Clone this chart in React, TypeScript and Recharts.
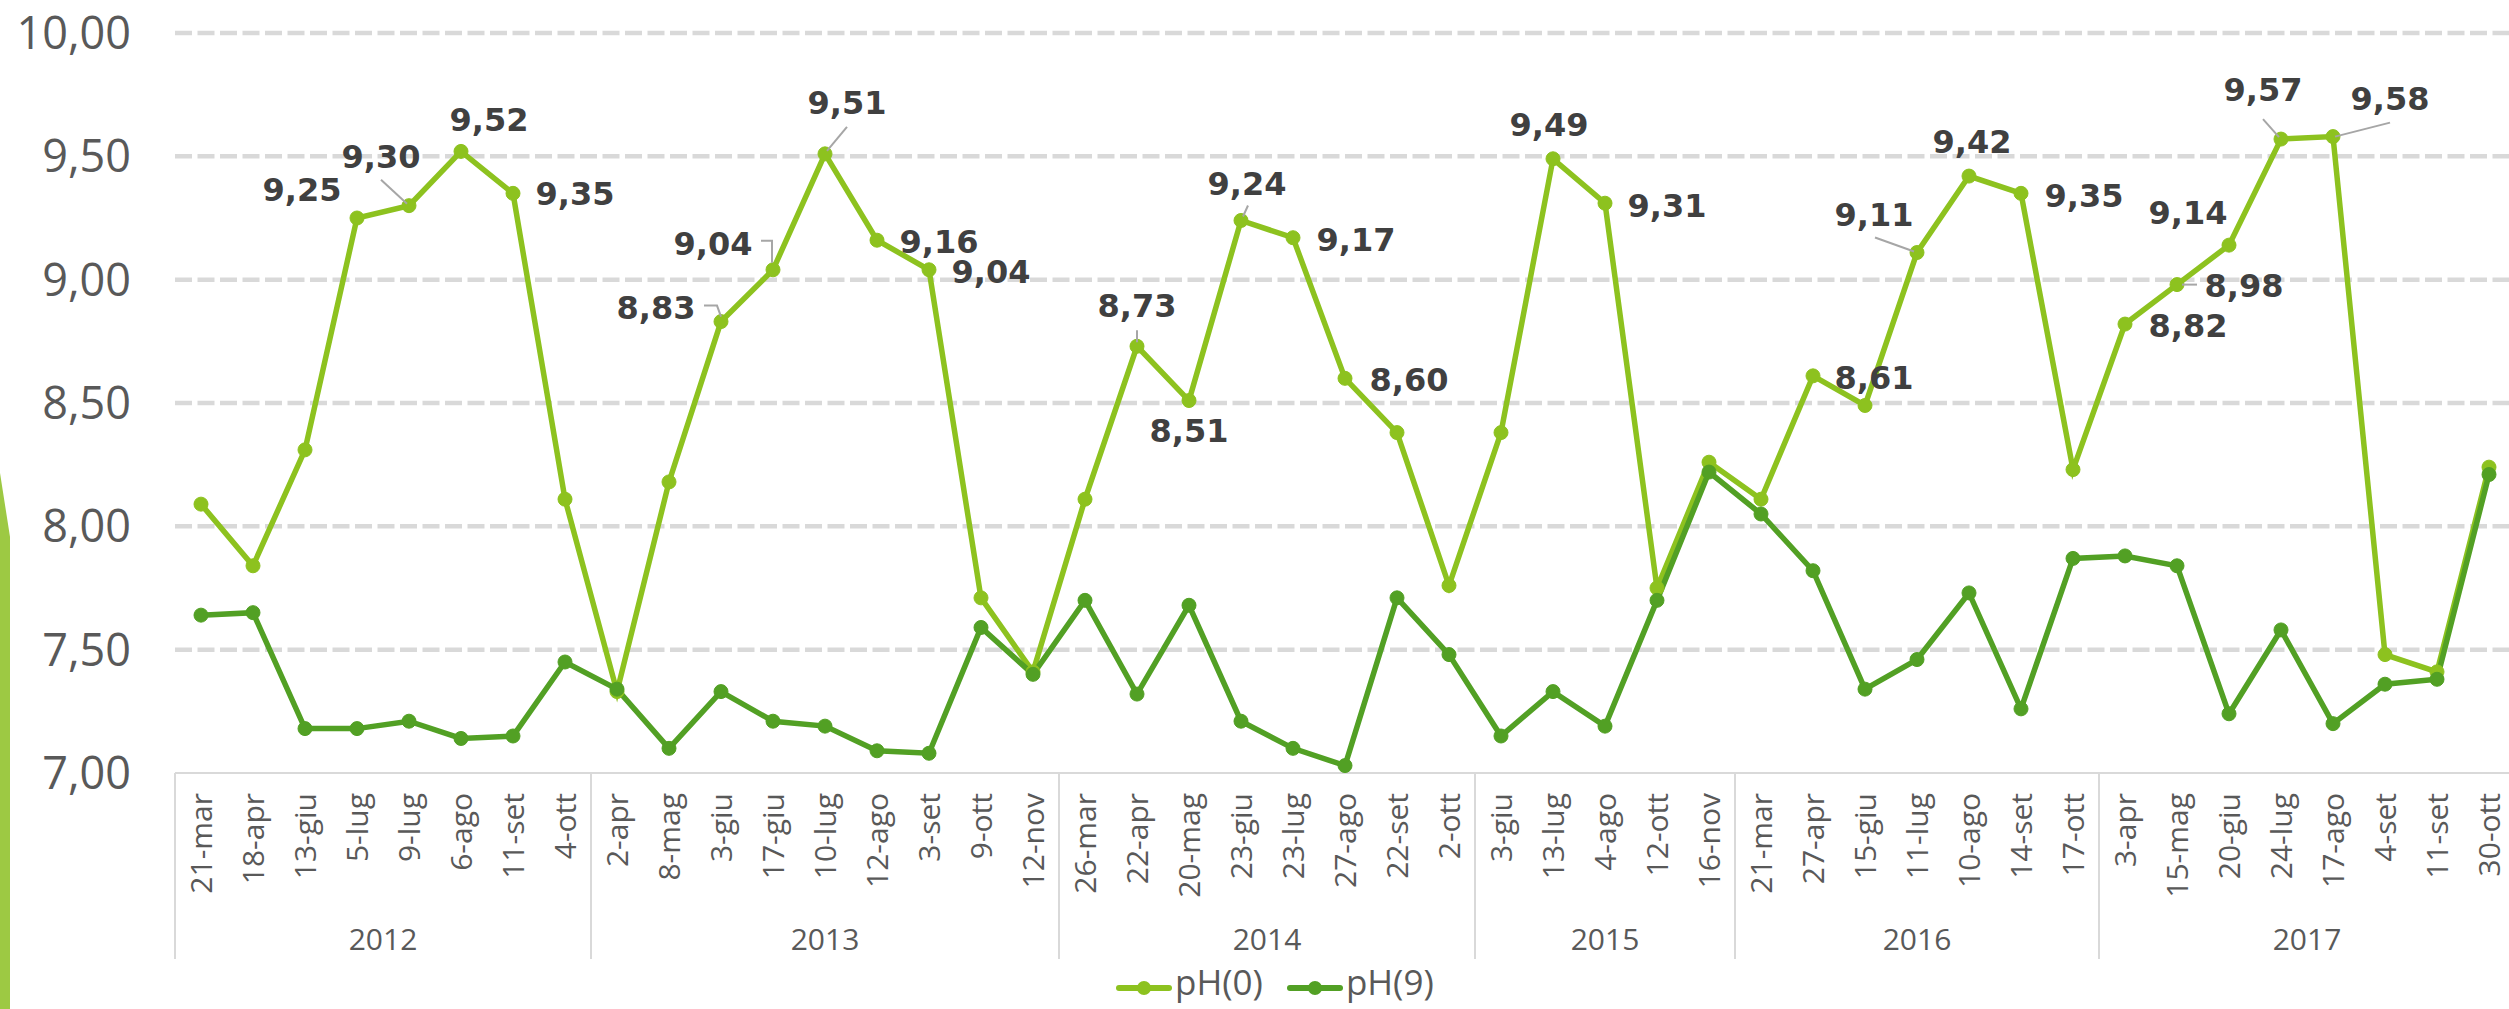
import { LineChart, Line, XAxis, YAxis, CartesianGrid, Legend } from 'recharts';

const YEARS = ['2012', '2013', '2014', '2015', '2016', '2017'];

const DATES_2012 = ['21-mar', '18-apr', '13-giu', '5-lug', '9-lug', '6-ago', '11-set', '4-ott'];
const DATES_2013 = ['2-apr', '8-mag', '3-giu', '17-giu', '10-lug', '12-ago', '3-set', '9-ott', '12-nov'];
const DATES_2014 = ['26-mar', '22-apr', '20-mag', '23-giu', '23-lug', '27-ago', '22-set', '2-ott'];
const DATES_2015 = ['3-giu', '13-lug', '4-ago', '12-ott', '16-nov'];
const DATES_2016 = ['21-mar', '27-apr', '15-giu', '11-lug', '10-ago', '14-set', '17-ott'];
const DATES_2017 = ['3-apr', '15-mag', '20-giu', '24-lug', '17-ago', '4-set', '11-set', '30-ott'];

const PH0 = [
  8.09, 7.84, 8.31, 9.25, 9.3, 9.52, 9.35, 8.11,
  7.33, 8.18, 8.83, 9.04, 9.51, 9.16, 9.04, 7.71, 7.41,
  8.11, 8.73, 8.51, 9.24, 9.17, 8.6, 8.38, 7.76,
  8.38, 9.49, 9.31, 7.75, 8.26,
  8.11, 8.61, 8.49, 9.11, 9.42, 9.35, 8.23,
  8.82, 8.98, 9.14, 9.57, 9.58, 7.48, 7.41, 8.24,
];

const PH9 = [
  7.64, 7.65, 7.18, 7.18, 7.21, 7.14, 7.15, 7.45,
  7.34, 7.1, 7.33, 7.21, 7.19, 7.09, 7.08, 7.59, 7.4,
  7.7, 7.32, 7.68, 7.21, 7.1, 7.03, 7.71, 7.48,
  7.15, 7.33, 7.19, 7.7, 8.22,
  8.05, 7.82, 7.34, 7.46, 7.73, 7.26, 7.87,
  7.88, 7.84, 7.24, 7.58, 7.2, 7.36, 7.38, 8.21,
];

const Y_TICKS = [7, 7.5, 8, 8.5, 9, 9.5, 10];

const DATES_BY_YEAR = [DATES_2012, DATES_2013, DATES_2014, DATES_2015, DATES_2016, DATES_2017];

const data = DATES_BY_YEAR.flatMap((dates, g) => dates.map((d) => ({ date: d, year: YEARS[g] }))).map((row, i) => ({
  ...row,
  ph0: PH0[i],
  ph9: PH9[i],
}));

// first index of each year group and its size
const groups: { start: number; count: number; year: string }[] = [];
DATES_BY_YEAR.reduce((start, dates, g) => {
  groups.push({ start, count: dates.length, year: YEARS[g] });
  return start + dates.length;
}, 0);

const LIGHT = '#8dc21f';
const DARK = '#52a024';
const TEXT = '#595959';

const CHART_W = 2520;
const CHART_H = 1009;
const PLOT_LEFT = 175;
const PLOT_RIGHT = 2515;
const STEP = (PLOT_RIGHT - PLOT_LEFT) / data.length;

// where the value labels of pH(0) sit, relative to their point (text baseline, centred)
const LABEL_PLACE: Record<number, { dx: number; dy: number; leader?: number[][] }> = {
  3: { dx: -55, dy: -17 },
  4: { dx: -28, dy: -38, leader: [[-28, -26], [-2, -2]] },
  5: { dx: 28, dy: -20 },
  6: { dx: 62, dy: 12 },
  10: { dx: -65, dy: -3, leader: [[-17, -16], [-4, -16], [0, -5]] },
  11: { dx: -60, dy: -15, leader: [[-12, -29], [-1, -29], [-1, -7]] },
  12: { dx: 22, dy: -40, leader: [[22, -27], [2, -3]] },
  13: { dx: 62, dy: 13 },
  14: { dx: 62, dy: 13 },
  18: { dx: 0, dy: -29, leader: [[0, -16], [0, -4]] },
  19: { dx: 0, dy: 41 },
  20: { dx: 6, dy: -25, leader: [[7, -15], [2, -4]] },
  21: { dx: 63, dy: 13 },
  22: { dx: 64, dy: 13 },
  26: { dx: -4, dy: -23 },
  27: { dx: 62, dy: 14 },
  31: { dx: 61, dy: 13 },
  33: { dx: -43, dy: -27, leader: [[-42, -15], [-3, -1]] },
  34: { dx: 3, dy: -23 },
  35: { dx: 63, dy: 14 },
  37: { dx: 63, dy: 13 },
  38: { dx: 67, dy: 12, leader: [[5, 0], [20, 0]] },
  39: { dx: -41, dy: -21 },
  40: { dx: -18, dy: -38, leader: [[-18, -20], [-2, -2]] },
  41: { dx: 57, dy: -27, leader: [[2, 0], [57, -14]] },
};

const fmt = (v: number) => v.toFixed(2).replace('.', ',');

function ValueLabel(props: any) {
  const { x, y, value, index } = props;
  const place = LABEL_PLACE[index];
  if (!place || x == null || y == null) return null;
  return (
    <g>
      {place.leader && (
        <polyline
          points={place.leader.map(([a, b]) => `${x + a},${y + b}`).join(' ')}
          fill="none"
          stroke="#a6a6a6"
          strokeWidth={2}
        />
      )}
      <text
        x={x + place.dx}
        y={y + place.dy}
        textAnchor="middle"
        fill="#404040"
        fontFamily="DejaVu Sans"
        fontWeight="bold"
        fontSize={32}
      >
        {fmt(value)}
      </text>
    </g>
  );
}

function DateTick(props: any) {
  const { x, y, payload } = props;
  const i = payload.index;
  const axisY = y - 20;
  const group = groups.find((g) => g.start === i);
  const isLast = i === data.length - 1;
  return (
    <g>
      <text
        transform={`translate(${x},${y}) rotate(-90)`}
        textAnchor="end"
        dy="0.36em"
        fill={TEXT}
        fontFamily="Open Sans"
        fontSize={30}
      >
        {payload.value}
      </text>
      {group && (
        <>
          <line x1={x - STEP / 2} x2={x - STEP / 2} y1={axisY} y2={axisY + 186} stroke="#d9d9d9" strokeWidth={2} />
          <text
            x={x - STEP / 2 + (group.count * STEP) / 2}
            y={axisY + 177}
            textAnchor="middle"
            fill={TEXT}
            fontFamily="Open Sans"
            fontSize={30}
          >
            {group.year}
          </text>
        </>
      )}
      {isLast && (
        <line x1={x + STEP / 2} x2={x + STEP / 2} y1={axisY} y2={axisY + 186} stroke="#d9d9d9" strokeWidth={2} />
      )}
    </g>
  );
}

const SERIES = [
  { key: 'ph0', name: 'pH(0)', color: LIGHT },
  { key: 'ph9', name: 'pH(9)', color: DARK },
];

function LegendContent() {
  return (
    <div style={{ display: 'flex', alignItems: 'center', height: 40, fontFamily: 'Open Sans', fontSize: 35, color: TEXT }}>
      {SERIES.map((s) => (
        <div key={s.key} style={{ display: 'flex', alignItems: 'center', marginRight: 24 }}>
          <svg width={56} height={20} style={{ position: 'relative', top: 6 }}>
            <line x1={3} x2={53} y1={10} y2={10} stroke={s.color} strokeWidth={6} strokeLinecap="round" />
            <circle cx={28} cy={10} r={7} fill={s.color} />
          </svg>
          <span style={{ marginLeft: 3, lineHeight: '40px' }}>{s.name}</span>
        </div>
      ))}
    </div>
  );
}

export default function App() {
  return (
    <div
      style={{
        position: 'absolute',
        left: 0,
        top: 0,
        width: 2509,
        height: 1009,
        overflow: 'hidden',
        background: '#ffffff',
      }}
    >
      <svg width={14} height={1009} style={{ position: 'absolute', left: 0, top: 0 }}>
        <polygon points="0,473 10,537 10,1009 0,1009" fill="#9dc943" />
      </svg>
      <LineChart width={CHART_W} height={CHART_H} data={data} margin={{ top: 33, right: CHART_W - PLOT_RIGHT, bottom: 0, left: 0 }}>
        <CartesianGrid
          vertical={false}
          horizontalValues={[7.5, 8, 8.5, 9, 9.5, 10]}
          stroke="#d9d9d9"
          strokeWidth={4.5}
          strokeDasharray="17 5.5"
        />
        <XAxis
          dataKey="date"
          interval={0}
          height={236}
          padding={{ left: STEP / 2, right: STEP / 2 }}
          axisLine={{ stroke: '#d9d9d9', strokeWidth: 2 }}
          tickLine={false}
          tickSize={0}
          tickMargin={20}
          tick={<DateTick />}
        />
        <YAxis
          width={PLOT_LEFT}
          domain={[7, 10]}
          ticks={Y_TICKS}
          tickFormatter={fmt}
          axisLine={false}
          tickLine={false}
          tickSize={0}
          tickMargin={44}
          tick={{ fill: TEXT, fontSize: 45, fontFamily: 'Open Sans' }}
        />
        <Legend
          verticalAlign="middle"
          align="center"
          layout="horizontal"
          wrapperStyle={{ top: 962, left: 1116, width: 420, height: 40 }}
          content={() => <LegendContent />}
        />
        <Line
          dataKey="ph0"
          name="pH(0)"
          stroke={LIGHT}
          strokeWidth={5.5}
          dot={{ r: 7, fill: LIGHT, stroke: LIGHT, strokeWidth: 1 }}
          label={(p: any) => <ValueLabel {...p} />}
          isAnimationActive={false}
        />
        <Line
          dataKey="ph9"
          name="pH(9)"
          stroke={DARK}
          strokeWidth={5.5}
          dot={{ r: 7, fill: DARK, stroke: DARK, strokeWidth: 1 }}
          isAnimationActive={false}
        />
      </LineChart>
    </div>
  );
}
